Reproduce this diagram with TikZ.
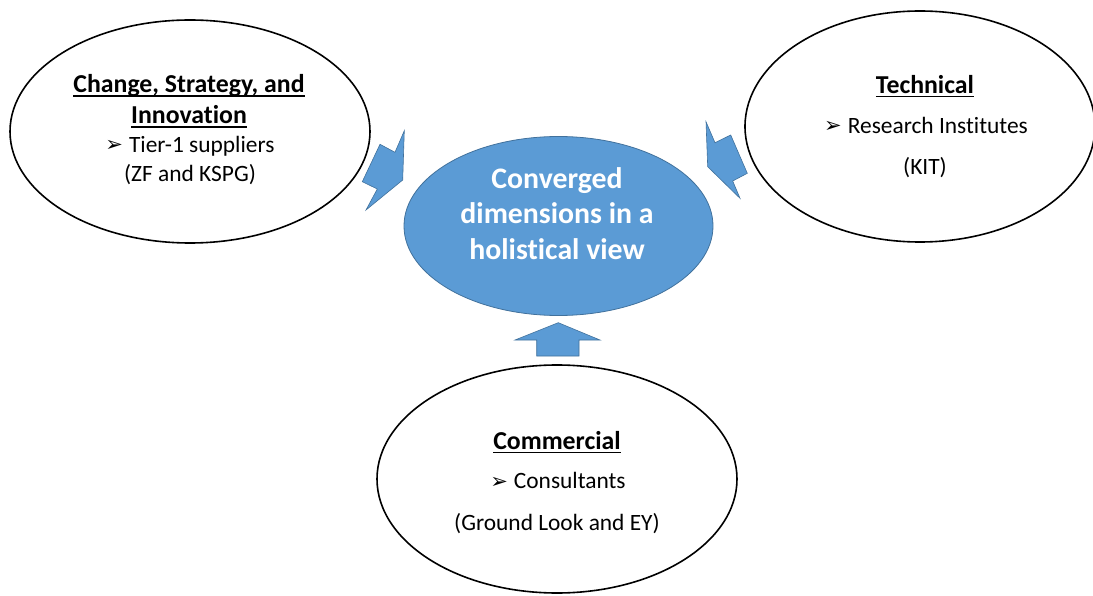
\documentclass[tikz,border=0pt]{standalone}
\usepackage{fontspec}
\setmainfont{Carlito}[Ligatures={CommonOff,ContextualOff}]
\newfontfamily\symfont{DejaVu Sans}
\usetikzlibrary{shapes.geometric}

\definecolor{hubblue}{HTML}{5B9BD5}
\definecolor{hubedge}{HTML}{41719C}

% underlined heading with a rule that scales with the large type
\newcommand\hdline[1]{\leavevmode\setbox0\hbox{#1}\rlap{\raisebox{-4pt}{\rule{\wd0}{1.7pt}}}\box0}
% arrowhead bullet
\newcommand\bul{{\symfont\fontsize{21}{21}\selectfont\raisebox{0.5pt}{➢}}\hspace{6pt}}

\begin{document}
\begin{tikzpicture}[x=1pt,y=-1pt,
  group/.style={ellipse, draw=black, line width=1.6pt, inner sep=0pt},
  hub/.style={ellipse, fill=hubblue, draw=hubedge, line width=0.8pt, inner sep=0pt},
  blockarrow/.style={fill=hubblue, draw=hubedge, line width=0.6pt, line join=miter},
  head/.style={anchor=base, inner sep=0pt, font=\bfseries\fontsize{25.8}{30}\selectfont},
  body/.style={anchor=base, inner sep=0pt, font=\fontsize{23.4}{28}\selectfont},
  hubtext/.style={anchor=base, inner sep=0pt, text=white, font=\bfseries\fontsize{29.8}{35}\selectfont}]
\useasboundingbox (0,0) rectangle (1093,596);
\clip (0,0) rectangle (1093,596);

% the three surrounding dimensions
\node[group, minimum width=360, minimum height=223] (csi) at (190,131.5) {};
\node[group, minimum width=350, minimum height=231] (tech) at (920,126.5) {};
\node[group, minimum width=360, minimum height=228] (comm) at (557,479) {};

% converged centre
\node[hub, minimum width=309, minimum height=179] (hub) at (558.5,226) {};

% block arrows pointing into the centre
\filldraw[blockarrow] (404.3,130.7) -- (395,152.3) -- (380,144.3) -- (362.3,181.7)
  -- (377.3,189) -- (366,210) -- (402.7,180) -- cycle;
\filldraw[blockarrow] (706,121.7) -- (715,142.7) -- (730.7,135) -- (747.3,173.3)
  -- (732.7,181) -- (740,198.3) -- (707.7,166.7) -- cycle;
\filldraw[blockarrow] (558.3,322.7) -- (600,340) -- (579,340) -- (579,356)
  -- (536.7,356) -- (536.7,340) -- (515,340) -- cycle;

% texts
\node[hubtext] (h1) at (557,188.3) {Converged};
\node[hubtext] (h2) at (557,224) {dimensions in a};
\node[hubtext] (h3) at (557,260) {holistical view};

\node[head] (c1) at (189,93) {\hdline{Change, Strategy, and}};
\node[head] (c2) at (189,124) {\hdline{Innovation}};
\node[body] (c3) at (190,152.5) {\bul Tier-1 suppliers};
\node[body] (c4) at (190,181.5) {(ZF and KSPG)};

\node[head] (t1) at (925,93.5) {\hdline{Technical}};
\node[body] (t2) at (926,133.5) {\bul Research Institutes};
\node[body] (t3) at (925,175) {(KIT)};

\node[head] (m1) at (557,449.3) {\hdline{Commercial}};
\node[body] (m2) at (558,488.5) {\bul Consultants};
\node[body] (m3) at (557,530) {(Ground Look and EY)};
\end{tikzpicture}
\end{document}
